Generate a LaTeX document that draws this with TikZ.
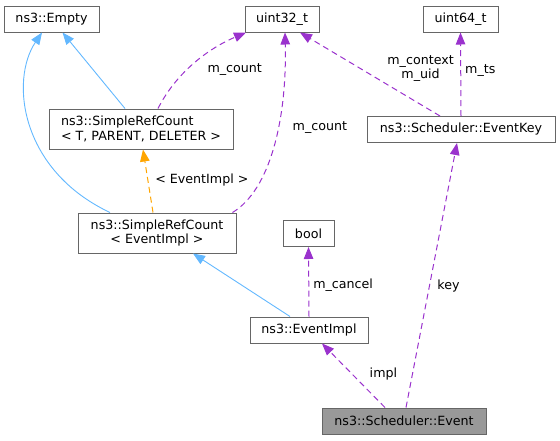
\documentclass[tikz,border=0pt]{standalone}
\usepackage{fontspec}
\setmainfont{DejaVu Sans}
\usetikzlibrary{arrows.meta}

\definecolor{edgeblue}{HTML}{63B8FF}
\definecolor{edgepurple}{HTML}{9A32CD}
\definecolor{edgeorange}{HTML}{FFA500}
\definecolor{boxgray}{HTML}{666666}
\definecolor{focusfill}{HTML}{999999}

\tikzset{
  klass/.style = {draw=boxgray, line width=1pt, fill=white, rectangle,
                  inner sep=2pt, minimum height=26pt,
                  font=\fontsize{12.66}{14.3}\selectfont},
  focus/.style = {klass, fill=focusfill},
  lbl/.style   = {inner sep=1pt, anchor=west, align=center,
                  font=\fontsize{12.66}{14.3}\selectfont},
  tip/.style   = {-{Triangle[length=12pt,width=9.5pt]}},
  inherit/.style = {tip, draw=edgeblue, line width=0.9pt},
  usage/.style   = {tip, draw=edgepurple, line width=1pt,
                    dash pattern=on 6pt off 4pt},
  tmpl/.style    = {tip, draw=edgeorange, line width=1pt,
                    dash pattern=on 6pt off 4pt}
}

\begin{document}
\begin{tikzpicture}[x=1pt, y=-1pt]
  \useasboundingbox (0,0) rectangle (560,440);

  % classes
  \node (empty) [klass, minimum width=95pt]  at (51.5,19)  {ns3::Empty};
  \node (u32)   [klass, minimum width=74pt]  at (282,19)   {uint32\_t};
  \node (u64)   [klass, minimum width=75pt]  at (460.5,19) {uint64\_t};
  \node (srcT)  [klass, minimum width=184pt, minimum height=40pt, align=left]
                at (141,129) {ns3::SimpleRefCount\\< T, PARENT, DELETER >};
  \node (key)   [klass, minimum width=188pt] at (461,129.5) {ns3::Scheduler::EventKey};
  \node (srcE)  [klass, minimum width=158pt, minimum height=40pt, align=center]
                at (157,233) {ns3::SimpleRefCount\\< EventImpl >};
  \node (bool)  [klass, minimum width=51pt]  at (308.5,233.5) {bool};
  \node (impl)  [klass, minimum width=118pt] at (309,330)  {ns3::EventImpl};
  \node (event) [focus, minimum width=164pt] at (404,421)  {ns3::Scheduler::Event};

  % inheritance
  \path
    ([xshift=-16pt]srcT.north) edge [inherit] ([xshift=11pt]empty.south)
    ([xshift=-19pt]impl.north) edge [inherit] ([xshift=36pt]srcE.south);
  \draw [inherit] ([xshift=-47pt]srcE.north)
    .. controls (20,170) and (10,80) .. ([xshift=-9.5pt]empty.south);

  % template instance
  \path
    ([xshift=-4pt]srcE.north) edge [tmpl]
      node [lbl, pos=0.52, xshift=6pt] (lbltmpl) {< EventImpl >}
      ([xshift=2pt]srcT.south);

  % members
  \draw [usage] ([xshift=17pt]srcT.north)
    .. controls (175,75) and (205,50) .. ([xshift=-36pt]u32.south)
    node [lbl, pos=0.5, xshift=13pt, yshift=-5.5pt] (lblcountT) {m\_count};
  \draw [usage] ([xshift=-4pt]srcE.north east)
    .. controls (270,190) and (287,120) .. ([xshift=3pt]u32.south)
    node [lbl, pos=0.6, xshift=13pt] (lblcountE) {m\_count};

  \path
    ([xshift=-21pt]key.north) edge [usage]
      node [lbl, pos=0.565, xshift=25pt] (lblctx) {m\_context\\m\_uid}
      ([xshift=18pt]u32.south)
    (key.north) edge [usage]
      node [lbl, pos=0.55, xshift=3pt] (lblts) {m\_ts}
      (u64.south)
    (impl.north) edge [usage]
      node [lbl, pos=0.45, xshift=3pt] (lblcancel) {m\_cancel}
      (bool.south)
    ([xshift=-19pt]event.north) edge [usage]
      node [lbl, pos=0.52, xshift=16pt] (lblimpl) {impl}
      ([xshift=13pt]impl.south)
    ([xshift=2pt]event.north) edge [usage]
      node [lbl, pos=0.46, xshift=6.5pt] (lblkey) {key}
      ([xshift=-4pt]key.south);
\end{tikzpicture}
\end{document}
